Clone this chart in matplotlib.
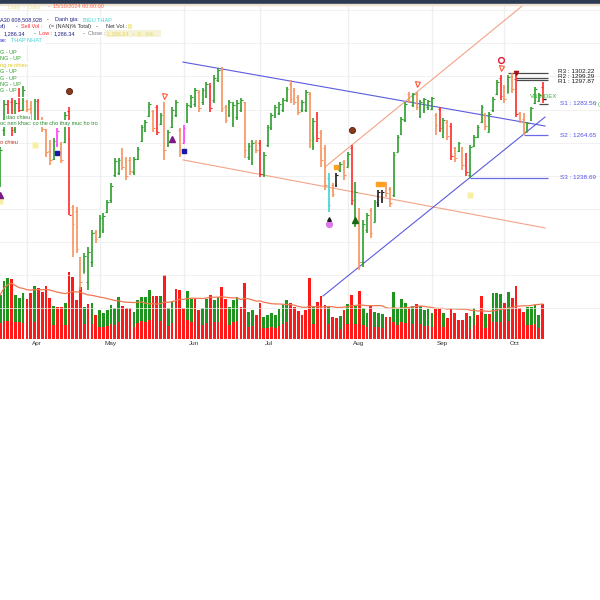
import numpy as np
import pandas as pd
import matplotlib
matplotlib.use("Agg")
import matplotlib.pyplot as plt
from matplotlib.patches import Rectangle
from matplotlib.transforms import blended_transform_factory

plt.rcParams['font.family'] = ['Liberation Sans', 'DejaVu Sans']

# VNINDEX daily bars, oldest first, last one is 15/10/2024
opens = [1235.7, 1267.7, 1283.4, 1284.6, 1268.5, 1284.0, 1280.0, 1285.2, 1281.0, 1273.5,
         1285.0, 1273.7, 1268.3, 1255.0, 1250.0, 1259.0, 1259.2, 1260.5, 1279.0, 1221.0,
         1218.8, 1191.0, 1181.3, 1176.0, 1187.9, 1206.1, 1203.1, 1207.0, 1218.0, 1225.4,
         1240.5, 1241.5, 1253.8, 1249.6, 1249.6, 1242.3, 1250.2, 1261.0, 1267.1, 1276.1,
         1279.0, 1281.6, 1271.0, 1283.0, 1258.6, 1269.5, 1276.7, 1267.7, 1259.8, 1273.7,
         1282.2, 1283.4, 1290.6, 1284.6, 1288.2, 1294.3, 1286.0, 1297.9, 1303.9, 1281.6,
         1276.7, 1271.0, 1275.5, 1280.0, 1284.6, 1251.4, 1248.4, 1260.4, 1259.8, 1241.1,
         1258.6, 1268.9, 1275.5, 1277.9, 1279.8, 1285.8, 1295.5, 1291.8, 1287.6, 1280.0,
         1280.0, 1289.4, 1258.0, 1277.3, 1266.5, 1256.8, 1238.7, 1234.5, 1234.5, 1243.5,
         1248.4, 1245.3, 1256.8, 1210.0, 1220.6, 1187.9, 1207.3, 1219.4, 1212.1, 1223.0,
         1226.0, 1235.1, 1232.0, 1228.4, 1254.4, 1265.3, 1273.7, 1289.4, 1282.8, 1289.4,
         1276.1, 1279.8, 1281.6, 1280.4, 1276.7, 1280.4, 1263.5, 1272.5, 1270.0, 1256.8,
         1255.0, 1256.8, 1252.6, 1240.5, 1258.0, 1263.5, 1272.5, 1276.7, 1266.5, 1279.8,
         1289.4, 1299.1, 1293.7, 1290.0, 1300.0, 1298.5, 1277.9, 1274.3, 1266.5, 1273.7,
         1284.0, 1285.2, 1293.7]
highs = [1257.4, 1285.8, 1285.8, 1287.0, 1285.8, 1293.0, 1294.3, 1285.8, 1285.2, 1286.4,
         1286.4, 1275.5, 1268.3, 1261.6, 1262.8, 1268.9, 1260.4, 1278.6, 1281.6, 1222.4,
         1221.2, 1191.0, 1193.4, 1197.0, 1207.3, 1207.3, 1216.3, 1217.5, 1225.4, 1235.7,
         1250.8, 1250.8, 1256.8, 1251.4, 1251.4, 1251.4, 1257.4, 1270.7, 1273.7, 1284.6,
         1279.8, 1282.8, 1277.9, 1284.6, 1267.7, 1281.6, 1285.8, 1268.9, 1270.7, 1284.0,
         1288.8, 1293.0, 1291.8, 1293.0, 1296.7, 1296.1, 1300.9, 1305.1, 1305.7, 1282.8,
         1285.8, 1284.6, 1285.8, 1287.0, 1284.6, 1259.8, 1261.6, 1261.6, 1261.6, 1254.4,
         1270.7, 1277.9, 1282.8, 1284.6, 1287.0, 1293.7, 1297.9, 1293.0, 1288.8, 1285.8,
         1291.8, 1290.6, 1274.9, 1278.6, 1267.7, 1258.6, 1241.7, 1235.7, 1241.7, 1248.4,
         1249.6, 1254.4, 1258.6, 1236.3, 1220.6, 1213.3, 1217.5, 1220.6, 1225.4, 1231.4,
         1231.4, 1236.3, 1233.3, 1254.4, 1264.7, 1275.5, 1284.6, 1290.6, 1290.0, 1290.6,
         1285.8, 1287.0, 1285.8, 1287.6, 1277.9, 1281.6, 1274.9, 1273.7, 1271.9, 1257.4,
         1260.4, 1257.4, 1253.8, 1258.6, 1264.7, 1270.7, 1282.8, 1277.9, 1278.6, 1287.6,
         1297.9, 1300.9, 1294.9, 1300.9, 1302.2, 1300.9, 1278.6, 1277.9, 1272.5, 1281.6,
         1293.7, 1290.0, 1296.7]
lows = [1233.3, 1264.1, 1274.9, 1264.1, 1266.0, 1278.6, 1279.0, 1278.6, 1269.5, 1271.0,
        1269.5, 1266.5, 1251.4, 1246.5, 1249.6, 1257.4, 1247.8, 1259.8, 1216.3, 1191.0,
        1193.4, 1171.0, 1181.3, 1171.0, 1184.9, 1199.4, 1203.1, 1205.5, 1217.5, 1223.6,
        1239.3, 1240.5, 1243.5, 1237.5, 1240.5, 1240.5, 1249.6, 1260.4, 1266.5, 1275.5,
        1266.5, 1264.7, 1270.7, 1249.6, 1257.4, 1268.9, 1275.5, 1251.4, 1259.8, 1271.9,
        1281.0, 1281.6, 1278.6, 1282.8, 1287.0, 1278.6, 1284.0, 1296.7, 1278.6, 1271.9,
        1275.5, 1269.5, 1273.7, 1278.6, 1250.8, 1249.6, 1246.5, 1253.8, 1239.3, 1239.3,
        1257.4, 1267.7, 1274.9, 1276.7, 1278.6, 1284.6, 1284.0, 1282.8, 1276.7, 1278.6,
        1278.6, 1256.8, 1255.6, 1260.4, 1245.3, 1231.4, 1218.2, 1227.2, 1233.3, 1242.3,
        1237.5, 1245.3, 1222.4, 1209.1, 1183.1, 1184.9, 1205.5, 1202.4, 1212.1, 1221.2,
        1223.6, 1227.2, 1221.2, 1227.2, 1254.4, 1264.7, 1272.5, 1284.0, 1281.6, 1279.8,
        1274.9, 1277.9, 1279.8, 1279.8, 1264.7, 1266.5, 1262.8, 1261.6, 1249.6, 1248.4,
        1254.4, 1243.5, 1239.9, 1238.69, 1257.4, 1262.8, 1271.9, 1267.7, 1266.5, 1278.6,
        1288.8, 1285.8, 1284.0, 1290.0, 1290.0, 1275.5, 1271.9, 1264.65, 1266.5, 1273.1,
        1283.4, 1284.6, 1284.0]
closes = [1255.6, 1283.4, 1277.3, 1267.7, 1284.0, 1280.0, 1292.0, 1280.4, 1272.5, 1285.0,
          1271.3, 1268.3, 1254.4, 1249.6, 1261.0, 1267.1, 1249.6, 1276.7, 1216.6, 1210.9,
          1196.0, 1175.9, 1191.6, 1194.0, 1205.5, 1201.8, 1214.5, 1215.7, 1224.2, 1233.9,
          1249.0, 1249.6, 1245.3, 1240.0, 1243.0, 1250.0, 1256.2, 1269.5, 1272.5, 1283.4,
          1268.9, 1266.5, 1276.7, 1255.6, 1266.5, 1279.8, 1284.6, 1255.6, 1268.9, 1282.8,
          1287.6, 1292.0, 1281.0, 1291.8, 1295.5, 1281.0, 1299.1, 1303.9, 1281.0, 1273.7,
          1284.6, 1282.8, 1284.0, 1285.8, 1255.6, 1258.0, 1259.8, 1255.6, 1241.1, 1252.6,
          1269.5, 1276.7, 1281.6, 1283.4, 1285.8, 1292.4, 1286.4, 1284.6, 1278.6, 1284.6,
          1290.6, 1261.6, 1273.1, 1262.8, 1249.6, 1234.5, 1222.4, 1229.0, 1240.5, 1247.1,
          1240.5, 1253.2, 1225.4, 1230.0, 1187.9, 1210.9, 1216.3, 1205.5, 1224.2, 1230.2,
          1230.2, 1229.6, 1223.6, 1252.6, 1263.5, 1274.3, 1283.4, 1285.2, 1289.4, 1281.6,
          1284.6, 1286.4, 1285.2, 1287.0, 1270.7, 1268.9, 1273.7, 1264.1, 1252.0, 1251.0,
          1259.8, 1246.5, 1242.3, 1257.4, 1263.5, 1269.5, 1281.6, 1270.1, 1277.3, 1286.4,
          1296.7, 1288.2, 1286.4, 1299.7, 1292.4, 1277.3, 1273.1, 1267.1, 1271.9, 1281.0,
          1292.4, 1288.8, 1286.34]
# bar colour class: g up, r down, o weak down, k neutral, m / c flagged bars
bar_kind = ("ggrrgrgoog" "rooogmogro" "oogggogggg" "ggoooggggg" "orgogggomg"
            "ggoggrggoo" "ggggoggorg" "ggggggooog" "gogroocokg" "ogrgoggogk"
            "kooggggogo" "ggggorgoro" "gorggggogg" "grogoroogg" "ggr")

# volume in millions of shares, and the buy (green) part of it
volume = [766, 1009, 1061, 1044, 766, 713, 800, 696, 800, 922,
          887, 818, 922, 713, 574, 557, 557, 626, 1166, 1079,
          679, 905, 557, 609, 626, 418, 505, 452, 505, 592,
          539, 731, 574, 539, 539, 470, 679, 731, 731, 853,
          748, 748, 748, 1114, 539, 661, 870, 853, 539, 835,
          696, 696, 505, 539, 696, 766, 679, 731, 905, 696,
          557, 679, 731, 557, 974, 470, 505, 418, 626, 383,
          418, 452, 418, 522, 592, 679, 626, 557, 487,
          418, 505, 1061, 574, 644, 748, 592, 557, 383, 365,
          400, 505, 609, 766, 592, 835, 539, 452, 574, 470,
          452, 435, 383, 383, 818, 539, 696, 626, 539, 574,
          609, 574, 505, 522, 452, 522, 522, 452, 365, 539,
          452, 331, 331, 452, 400, 539, 418, 748, 435, 435,
          800, 800, 783, 626, 818, 713, 922, 539, 470, 557,
          557, 592, 418, 609]
buy_part = [480, 700, 750, 0, 470, 420, 520, 0, 0, 620,
            0, 0, 0, 0, 330, 0, 0, 380, 0, 0,
            0, 0, 300, 0, 360, 0, 290, 250, 280, 330,
            300, 430, 0, 0, 0, 260, 400, 420, 430, 520,
            0, 0, 440, 0, 310, 380, 0, 0, 0, 500,
            400, 0, 0, 300, 410, 0, 390, 430, 0, 0,
            310, 390, 420, 0, 0, 260, 280, 0, 0, 200,
            230, 250, 230, 290, 330, 390, 0, 0, 0,
            0, 0, 0, 320, 0, 0, 0, 300, 0, 0,
            220, 0, 340, 0, 330, 0, 300, 250, 0, 260,
            250, 240, 0, 0, 520, 300, 400, 350, 0, 320,
            0, 320, 280, 290, 250, 0, 0, 250, 0, 0,
            0, 0, 0, 0, 220, 300, 0, 0, 240, 0,
            500, 500, 480, 0, 510, 0, 0, 0, 0, 310,
            310, 330, 230, 0]

# pivot levels and where each one starts (bar index)
level_names = ["R3", "R2", "R1", "S1", "S2", "S3"]
level_values = [1302.22, 1299.29, 1297.87, 1283.56, 1264.65, 1238.69]
level_start = [133, 135, 135, 141, 137, 123]

# trend lines: (bar index pair, price pair)
trend_top = ([47.85, 142.6], [1308.7, 1270.1])
trend_bottom = ([47.85, 142.6], [1249.6, 1208.5])
channel_up = ([85.0, 137.9], [1245.3, 1345.0])
support_up = ([84.5, 142.6], [1167.4, 1275.5])

# signal markers (bar index, price)
sell_sig_idx, sell_sig_px = [43, 109, 131], [1288.5, 1295.5, 1305.1]
ring_idx, ring_px = [131], [1309.8]
peak_idx, peak_px = [135], [1302.0]
brown_idx, brown_px = [18, 92], [1291.2, 1267.7]
buy_tri_idx, buy_tri_px = [0, 45], [1228.4, 1262.2]
square_idx, square_px = [15, 48], [1253.8, 1255.0]
pale_idx, pale_px = [0, 9, 123], [1225.0, 1258.6, 1228.4]
star_idx, star_px = [88, 99, 100], [1245.3, 1235.1, 1235.1]
green_tri_idx, green_tri_px = [93], [1213.0]
alert_idx, alert_px = [86], [1210.9]

holidays = ["2024-04-18", "2024-04-29", "2024-04-30", "2024-05-01", "2024-09-02", "2024-09-03"]
days = pd.bdate_range("2024-03-01", "2024-10-15")
days = days[~days.isin(pd.to_datetime(holidays))][-len(closes):]

n = len(closes)
x = np.arange(n)
kind_color = {"g": "#2e9e2e", "r": "#ff2a2a", "o": "#f7925c", "k": "#1e1e1e",
              "m": "#ff3cff", "c": "#3ed2d2"}

W, H = 600, 600
fig = plt.figure(figsize=(6, 6), dpi=100, facecolor="white")
rect = [0, 1 - 340 / H, 1, 336 / H]
xlim = (-0.05, 157.0)

# ---- volume panel (drawn underneath) ----
axv = fig.add_axes(rect, facecolor="#e6e6e6")
axv.set_xlim(*xlim)
axv.set_ylim(-17.4, 5829)
axv.axis("off")
axv.patch.set_visible(True)

month_idx = [i for i in range(1, n) if days[i].month != days[i - 1].month]
for i in month_idx:
    axv.axvline(i, color="#efefef", lw=0.9, zorder=0)

vol_ma = pd.Series(volume).rolling(20, min_periods=1).mean()
axv.fill_between(x, 0, vol_ma, color="white", lw=0, zorder=1)
axv.plot(x, vol_ma, color="#f07850", lw=0.9, zorder=3)

vol = np.array(volume, float)
buy = np.array(buy_part, float)
axv.bar(x, vol - buy, width=0.72, bottom=0, color="#ff1a1a", lw=0, zorder=2)
axv.bar(x, buy, width=0.72, bottom=vol - buy, color="#1f951f", lw=0, zorder=2)

tb = blended_transform_factory(axv.transData, axv.transAxes)
for i in month_idx:
    axv.annotate(days[i].strftime("%b"), (i, 0), xycoords=tb, xytext=(3.5, -1.0),
                 textcoords="offset points", ha="left", va="top", fontsize=4.6,
                 color="#333333", annotation_clip=False)

# ---- price panel ----
ax = fig.add_axes(rect, facecolor="none")
ax.set_xlim(*xlim)
ax.set_ylim(1140.8, 1343.8)
ax.axis("off")

for p in range(1160, 1341, 20):
    ax.axhline(p, color="#ebebeb", lw=0.5, zorder=0)

for xs, ys, c in [(trend_top[0], trend_top[1], "#5b5be0"),
                  (trend_bottom[0], trend_bottom[1], "#f2a488"),
                  (channel_up[0], channel_up[1], "#f2a488"),
                  (support_up[0], support_up[1], "#5b5be0")]:
    ax.plot(xs, ys, color=c, lw=0.8, zorder=2)

for i in range(n):
    c = kind_color[bar_kind[i]]
    ax.vlines(i, lows[i], highs[i], color=c, lw=1.2, zorder=4)
    ax.hlines(opens[i], i - 0.45, i, color=c, lw=0.8, zorder=4)
    ax.hlines(closes[i], i, i + 0.45, color=c, lw=0.8, zorder=4)
ax.hlines(closes[-1], n - 1, n - 0.1, color="#111111", lw=0.9, zorder=5)

x_end = 143.4
for name, val, s in zip(level_names, level_values, level_start):
    col = "#4a4a4a" if name[0] == "R" or name == "S1" else "#6a6ae6"
    ax.hlines(val, s, x_end, color=col, lw=0.9, zorder=3)

label_dy = {"R3": 0.8, "R2": 1.0, "R1": -0.6, "S1": 0, "S2": 0, "S3": 0}
for name, val in zip(level_names, level_values):
    col = "#1a1a1a" if name[0] == "R" else "#5050e8"
    xi = 146.0 if name[0] == "R" else 146.5
    ax.text(xi, val + label_dy[name], f"{name} : {val:.2f}", fontsize=4.6,
            color=col, va="center", ha="left", zorder=6)
ax.text(138.6, 1288.0, "VNINDEX", fontsize=4.4, color="#3cb43c", va="center",
        ha="left", zorder=6)
ax.text(155.6, 1283.2, "/ (", fontsize=4.0, color="#3cb43c", va="center",
        ha="left", zorder=6)

# markers
ax.plot(sell_sig_idx, sell_sig_px, "v", ms=3.6, mfc="none", mec="#ff5a36", mew=0.8, zorder=6)
ax.plot(ring_idx, ring_px, "o", ms=4.2, mfc="none", mec="#e01c3a", mew=1.0, zorder=6)
ax.plot(peak_idx, peak_px, "v", ms=3.0, mfc="#b01010", mec="#b01010", zorder=6)
ax.plot(brown_idx, brown_px, "o", ms=4.4, mfc="#8c3a1c", mec="#4e200e", mew=0.6, zorder=6)
ax.plot(buy_tri_idx, buy_tri_px, "^", ms=4.0, mfc="#7c1a86", mec="#7c1a86", zorder=6)
ax.plot(square_idx, square_px, "s", ms=2.6, mfc="#1818a8", mec="#1818a8", zorder=6)
ax.plot(pale_idx, pale_px, "s", ms=4.0, mfc="#f7f0a4", mec="none", zorder=5)
ax.plot(star_idx, star_px, "s", ms=2.4, mfc="#ffa020", mec="#ffa020", zorder=6)
ax.plot(green_tri_idx, green_tri_px, "^", ms=4.0, mfc="#156a15", mec="#156a15", zorder=6)
ax.plot(alert_idx, alert_px, "o", ms=4.2, mfc="#dc78e8", mec="#dc78e8", zorder=6)
ax.plot(alert_idx, [p + 3.2 for p in alert_px], "^", ms=2.6, mfc="#222222", mec="#222222", zorder=7)

# ---- header band and info box ----
fig.patches.append(Rectangle((0, 1 - 3.5 / H), 1, 3.5 / H, transform=fig.transFigure,
                             color="#2c3a52", zorder=10))
fig.patches.append(Rectangle((0, 1 - 4.6 / H), 1, 1.1 / H, transform=fig.transFigure,
                             color="#efe3d4", zorder=10))


def box(x0, y0, w, h, color="white"):
    fig.patches.append(Rectangle((x0 / W, 1 - (y0 + h) / H), w / W, h / H,
                                 transform=fig.transFigure, color=color, lw=0, zorder=10))


def put(xp, yp, s, color, size=4.0, bg=None):
    kw = {}
    if bg:
        kw["bbox"] = dict(boxstyle="square,pad=0.12", fc=bg, ec="none")
    fig.text(xp / W, 1 - yp / H, s, color=color, fontsize=size, va="center",
             ha="left", zorder=11, **kw)


put(8, 7, "Daily  -  Daily", "#f0e28a")
put(48, 7, "-  15/10/2024 00:00:00", "#ff6a48")

box(0, 16.5, 113, 6.8)
box(0, 23.3, 133, 6.8)
box(0, 30.1, 105, 6.8)
box(105, 30.1, 56, 6.8, "#f6f2d8")
box(0, 36.9, 45, 6.8)
box(0, 43.5, 60, 1.4)
put(0, 20, "A30 608,508,928", "#22228a")
put(47, 20, "-", "#333333")
put(55, 20, "Danh gia:", "#22228a")
put(83, 20, "BIEU THAP", "#3fd0d0")
put(0, 26.5, "al)", "#22228a")
put(16, 26.5, "-", "#333333")
put(21, 26.5, "Sell Vol :", "#ff2a2a")
put(49, 26.5, "(= (NAN)% Total)", "#333333")
put(96, 26.5, "-", "#333333")
put(106, 26.5, "Net Vol :", "#333333")
box(128, 24, 4, 5, "#f4ef9c")
put(4, 33.3, "1,286.34", "#22228a")
put(34, 33.3, "-", "#333333")
put(39, 33.3, "Low :", "#ff2a2a")
put(54, 33.3, "1,286.34", "#22228a")
put(83, 33.3, "-", "#333333")
put(88, 33.3, "Close :", "#777777")
put(107, 33.3, "1,286.34  +  0 . 0%", "#e8d860")
put(0, 40, "se:", "#2a2ad0")
put(11, 40, "THAP NHAT", "#3fd0d0")

rows = [(52, "G - UP", "#2e9e2e"), (58.5, "NG - UP", "#2e9e2e"),
        (65, "ng re nhieu", "#e0cc20"), (71.5, "G - UP", "#2e9e2e"),
        (78, "G - UP", "#2e9e2e"), (84.5, "NG - UP", "#2e9e2e"),
        (91, "G - UP", "#2e9e2e")]
for yp, s, c in rows:
    put(0, yp, s, c, bg="white")
box(0, 96.8, 62, 1.6)
put(6, 117, "dao chieu", "#2a8a2a", bg="white")
put(0, 123.5, "oc nen khac: co the cho thay muc ho tro", "#2a8a2a", bg="white")
put(0, 143, "o chieu", "#b03020", bg="white")

fig.savefig("out.png", dpi=100, facecolor="white")
